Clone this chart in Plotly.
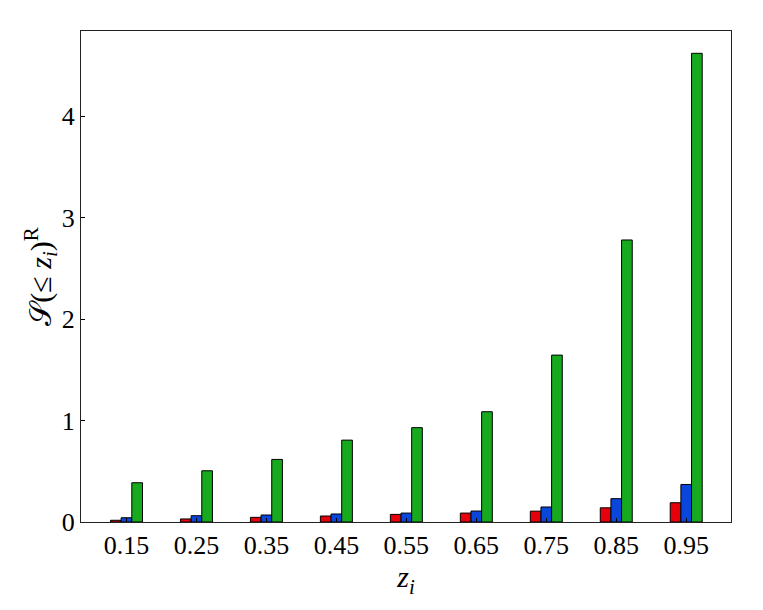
import plotly.graph_objects as go

z_labels = ['0.15', '0.25', '0.35', '0.45', '0.55', '0.65', '0.75', '0.85', '0.95']
red_vals = [0.017, 0.030, 0.046, 0.059, 0.075, 0.088, 0.107, 0.140, 0.190]
blue_vals = [0.042, 0.062, 0.069, 0.079, 0.088, 0.108, 0.148, 0.230, 0.370]
green_vals = [0.387, 0.505, 0.617, 0.807, 0.930, 1.087, 1.645, 2.780, 4.620]

fig = go.Figure()
for vals, color in [(red_vals, '#e5000c'), (blue_vals, '#0a45dc'), (green_vals, '#17aa1f')]:
    fig.add_trace(
        go.Bar(
            x=z_labels,
            y=vals,
            marker=dict(color=color, line=dict(color='black', width=1)),
            showlegend=False
        )
    )

serif = 'Liberation Serif, DejaVu Serif, serif'

# page body has an 8px margin, so the figure is shrunk by that much
fig.update_layout(
    barmode='group',
    bargap=0.543,
    bargroupgap=0,
    width=747,
    height=594,
    margin=dict(l=73, r=24, t=23, b=80),
    plot_bgcolor='white',
    paper_bgcolor='white',
    font=dict(family=serif, color='black', size=26),
    xaxis=dict(
        type='category',
        range=[-0.65, 8.64],
        showline=True, linecolor='#222', linewidth=1, mirror=True,
        ticks='inside', ticklen=4, tickcolor='black',
        tickfont=dict(size=26),
        title=dict(text='<i>z<sub>i</sub></i>', font=dict(size=30), standoff=0),
        showgrid=False
    ),
    yaxis=dict(
        range=[0, 4.84],
        tickvals=[0, 1, 2, 3, 4],
        showline=True, linecolor='#222', linewidth=1, mirror=True,
        ticks='inside', ticklen=4, tickcolor='black',
        tickfont=dict(size=26),
        title=dict(text='𝒮(≤ <i>z<sub>i</sub></i>)<sup>R</sup>', font=dict(size=30), standoff=0),
        showgrid=False, zeroline=False
    )
)

fig.write_html("out.html")
